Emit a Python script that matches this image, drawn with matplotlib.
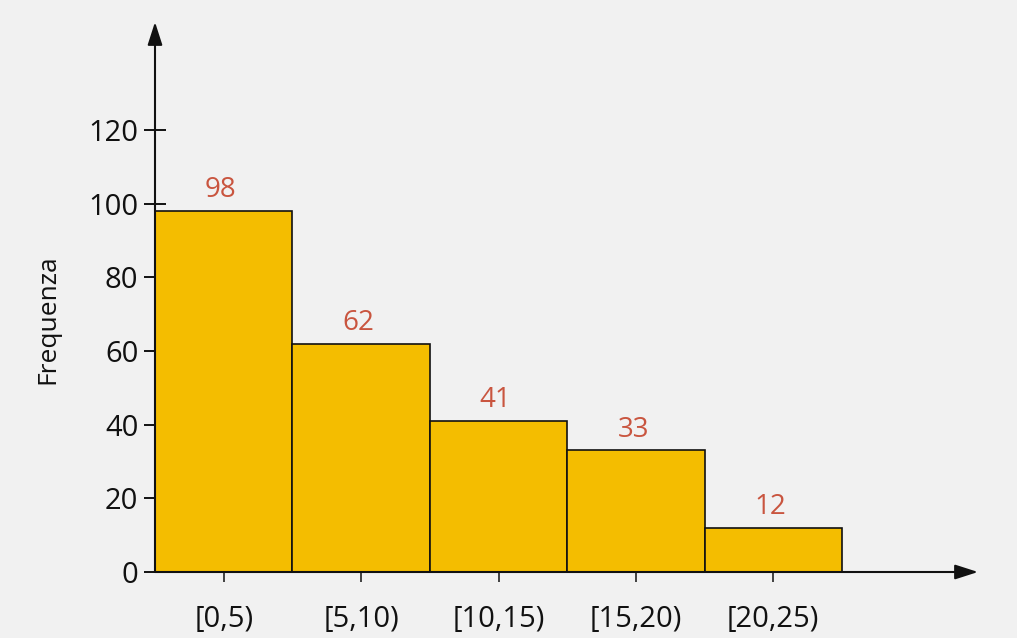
import matplotlib
matplotlib.use("Agg")
import matplotlib.pyplot as plt
import numpy as np

# Frequency distribution by class interval
classes = ["[0,5)", "[5,10)", "[10,15)", "[15,20)", "[20,25)"]
edges = [0, 5, 10, 15, 20, 25]
freq = [98, 62, 41, 33, 12]
yticks = [0, 20, 40, 60, 80, 100, 120]

bar_color = "#f4bd00"
label_color = "#c9553f"
bg = "#f1f1f1"
ink = "#111111"

plt.rcParams["font.family"] = ["Open Sans", "DejaVu Sans"]

fig = plt.figure(figsize=(10.17, 6.38), dpi=100, facecolor=bg)
ax = fig.add_axes([155 / 1017, 66 / 638, (978 - 155) / 1017, (572 - 22) / 638])
ax.set_facecolor(bg)

x_max = (978 - 155) / 27.48
y_max = (572 - 22) / 3.683
ax.set_xlim(0, x_max)
ax.set_ylim(0, y_max)

lefts = np.array(edges[:-1], dtype=float)
widths = np.diff(edges)
centers = lefts + widths / 2

ax.bar(lefts, freq, width=widths, align="edge", color=bar_color,
       edgecolor=ink, linewidth=1.2, zorder=2)

for c, v in zip(centers, freq):
    ax.annotate(str(v), (c, v), xytext=(-2, 5), textcoords="offset points",
                ha="center", va="bottom", fontsize=20, color=label_color)

for s in ax.spines.values():
    s.set_visible(False)

# axes drawn as arrows
arrow = dict(arrowstyle="-|>,head_length=1.4,head_width=0.45", color=ink,
             lw=1.5, shrinkA=0, shrinkB=0)
ax.annotate("", xy=(1, 0), xytext=(0, 0), xycoords="axes fraction",
            arrowprops=arrow, zorder=3)
ax.annotate("", xy=(0, 1), xytext=(0, 0), xycoords="axes fraction",
            arrowprops=arrow, zorder=3)

ax.set_yticks(yticks)
ax.set_yticklabels([str(t) for t in yticks])
ax.tick_params(axis="y", direction="inout", length=16, width=1.4, labelsize=21,
               pad=4, colors=ink)
ax.set_xticks(centers)
ax.set_xticklabels(classes)
ax.tick_params(axis="x", direction="out", length=7, width=1.1, labelsize=21,
               pad=17, colors=ink)

ax.set_ylabel("Frequenza", fontsize=19, color=ink)
ax.yaxis.set_label_coords(-0.115, 0.46)

fig.savefig("out.png", dpi=100, facecolor=bg)
